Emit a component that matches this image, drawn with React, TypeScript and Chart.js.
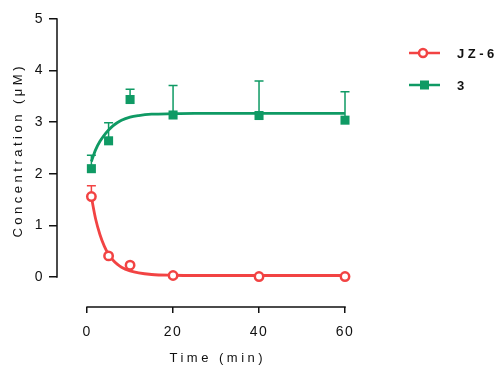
import React, { useEffect, useRef } from 'react';
import { Chart, registerables } from 'chart.js';

Chart.register(...registerables);

// ---- data ----
const times = [1, 5, 10, 20, 40, 60];
const jz6Values = [1.56, 0.41, 0.23, 0.03, 0.01, 0.01];
const jz6Errors = [0.21, 0, 0, 0, 0, 0];
const cpd3Values = [2.1, 2.64, 3.44, 3.14, 3.13, 3.04];
const cpd3Errors = [0.26, 0.35, 0.2, 0.57, 0.67, 0.55];

const fitTimes = [1, 2, 3, 4, 5, 6, 7, 8, 10, 12, 15, 20, 25, 30, 40, 50, 60];
const jz6Fit = [1.55, 1.12, 0.82, 0.6, 0.44, 0.33, 0.25, 0.19, 0.12, 0.08, 0.05, 0.035, 0.03, 0.03, 0.03, 0.03, 0.03];
const cpd3Fit = [2.24, 2.47, 2.63, 2.75, 2.85, 2.93, 2.99, 3.04, 3.1, 3.13, 3.155, 3.165, 3.17, 3.17, 3.17, 3.17, 3.17];

const xTicks = [0, 20, 40, 60];
const yTicks = [0, 1, 2, 3, 4, 5];
const seriesNames = ['JZ-6', '3'];
const xTitle = 'Time (min)';
const yTitle = 'Concentration (\u03bcM)';

const RED = '#F24343';
const GREEN = '#0F9A64';
const INK = '#111111';
const FONT = '"Liberation Sans", Arial, Helvetica, sans-serif';

const toXY = (xs: number[], ys: number[]) => xs.map((x, i) => ({ x, y: ys[i] }));

const errorBarPlugin = {
  id: 'errorBars',
  beforeDatasetsDraw(chart: any) {
    const { ctx, scales } = chart;
    const xs = scales.x;
    const ys = scales.y;
    const sets = [
      { vals: jz6Values, errs: jz6Errors, color: RED },
      { vals: cpd3Values, errs: cpd3Errors, color: GREEN },
    ];
    ctx.save();
    sets.forEach((s) => {
      ctx.strokeStyle = s.color;
      ctx.lineWidth = 1.5;
      times.forEach((t, i) => {
        if (!s.errs[i]) return;
        const px = xs.getPixelForValue(t);
        const py0 = ys.getPixelForValue(s.vals[i]);
        const py1 = ys.getPixelForValue(s.vals[i] + s.errs[i]);
        ctx.beginPath();
        ctx.moveTo(px, py0);
        ctx.lineTo(px, py1);
        ctx.moveTo(px - 4.5, py1);
        ctx.lineTo(px + 4.5, py1);
        ctx.stroke();
      });
    });
    ctx.restore();
  },
};

const axesPlugin = {
  id: 'axesAndTitles',
  beforeDraw(chart: any) {
    chart.ctx.letterSpacing = '1.5px';
  },
  afterDraw(chart: any) {
    const { ctx, scales, chartArea } = chart;
    const xs = scales.x;
    const ys = scales.y;
    ctx.save();
    ctx.strokeStyle = INK;
    ctx.lineWidth = 1.5;
    ctx.beginPath();
    const yl = chartArea.left;
    ctx.moveTo(yl, ys.getPixelForValue(yTicks[0]) + 0.75);
    ctx.lineTo(yl, ys.getPixelForValue(yTicks[yTicks.length - 1]) - 0.75);
    const xb = chartArea.bottom;
    ctx.moveTo(xs.getPixelForValue(xTicks[0]) - 0.75, xb);
    ctx.lineTo(xs.getPixelForValue(xTicks[xTicks.length - 1]) + 0.75, xb);
    ctx.stroke();

    // axis titles
    ctx.fillStyle = INK;
    ctx.font = `13px ${FONT}`;
    ctx.letterSpacing = '3.5px';
    ctx.textAlign = 'center';
    ctx.textBaseline = 'middle';
    const xMid = (xs.getPixelForValue(xTicks[0]) + xs.getPixelForValue(xTicks[xTicks.length - 1])) / 2;
    ctx.fillText(xTitle, xMid + 1.75, 358);
    ctx.save();
    ctx.translate(18, 152);
    ctx.rotate(-Math.PI / 2);
    ctx.fillText(yTitle, 1.75, 0);
    ctx.restore();

    // legend
    const legendY = [53, 85];
    const colors = [RED, GREEN];
    seriesNames.forEach((name, i) => {
      const y = legendY[i];
      ctx.strokeStyle = colors[i];
      ctx.lineWidth = 2.5;
      ctx.beginPath();
      ctx.moveTo(409, y);
      ctx.lineTo(440, y);
      ctx.stroke();
      if (i === 0) {
        ctx.fillStyle = '#fff';
        ctx.beginPath();
        ctx.arc(423, y, 4, 0, Math.PI * 2);
        ctx.fill();
        ctx.stroke();
      } else {
        ctx.fillStyle = colors[i];
        ctx.fillRect(424.5 - 4.5, y - 4.5, 9, 9);
      }
      ctx.fillStyle = INK;
      ctx.font = `bold 13px ${FONT}`;
      ctx.letterSpacing = '3.5px';
      ctx.textAlign = 'left';
      ctx.textBaseline = 'middle';
      ctx.fillText(name, 457, y + 1);
    });
    ctx.restore();
  },
};

export default function App() {
  const ref = useRef<HTMLCanvasElement | null>(null);

  useEffect(() => {
    if (!ref.current) return;
    const chart = new Chart(ref.current, {
      type: 'scatter',
      data: {
        datasets: [
          {
            label: seriesNames[0] + ' data',
            data: toXY(times, jz6Values),
            showLine: false,
            pointStyle: 'circle',
            pointRadius: 4.2,
            pointBorderWidth: 2.5,
            pointBackgroundColor: '#ffffff',
            pointBorderColor: RED,
            clip: false as any,
          },
          {
            label: seriesNames[1] + ' data',
            data: toXY(times, cpd3Values),
            showLine: false,
            pointStyle: 'rect',
            pointRadius: 6.4,
            pointBorderWidth: 0,
            pointBackgroundColor: GREEN,
            pointBorderColor: GREEN,
            clip: false as any,
          },
          {
            label: seriesNames[0] + ' fit',
            data: toXY(fitTimes, jz6Fit),
            showLine: true,
            pointRadius: 0,
            borderColor: RED,
            borderWidth: 2.8,
            cubicInterpolationMode: 'monotone',
            clip: false as any,
          },
          {
            label: seriesNames[1] + ' fit',
            data: toXY(fitTimes, cpd3Fit),
            showLine: true,
            pointRadius: 0,
            borderColor: GREEN,
            borderWidth: 2.8,
            cubicInterpolationMode: 'monotone',
            clip: false as any,
          },
        ],
      },
      options: {
        animation: false,
        responsive: false,
        maintainAspectRatio: false,
        layout: { padding: { top: 19, right: 151, left: 0, bottom: 0 } },
        plugins: {
          legend: { display: false },
          tooltip: { enabled: false },
          title: { display: false },
        },
        scales: {
          x: {
            type: 'linear',
            min: -7,
            max: 60,
            afterBuildTicks: (s: any) => {
              s.ticks = xTicks.map((v) => ({ value: v }));
            },
            afterFit: (s: any) => {
              s.height = 58;
            },
            border: { display: false },
            grid: {
              drawOnChartArea: false,
              drawTicks: true,
              tickLength: 6,
              color: INK,
              lineWidth: 1.5,
            },
            ticks: {
              color: INK,
              font: { family: FONT, size: 14 },
              padding: 11,
              maxRotation: 0,
              autoSkip: false,
            },
          },
          y: {
            type: 'linear',
            min: -0.58,
            max: 5,
            afterBuildTicks: (s: any) => {
              s.ticks = yTicks.map((v) => ({ value: v }));
            },
            afterFit: (s: any) => {
              s.width = 57;
            },
            border: { display: false },
            grid: {
              drawOnChartArea: false,
              drawTicks: true,
              tickLength: 8,
              color: INK,
              lineWidth: 1.5,
            },
            ticks: {
              color: INK,
              font: { family: FONT, size: 14 },
              padding: 5,
              autoSkip: false,
            },
          },
        },
      },
      plugins: [errorBarPlugin, axesPlugin],
    });
    return () => chart.destroy();
  }, []);

  return (
    <div style={{ position: 'fixed', left: 0, top: 0, width: 496, height: 365, background: '#fff' }}>
      <canvas ref={ref} width={496} height={365} style={{ width: 496, height: 365, display: 'block' }} />
    </div>
  );
}
